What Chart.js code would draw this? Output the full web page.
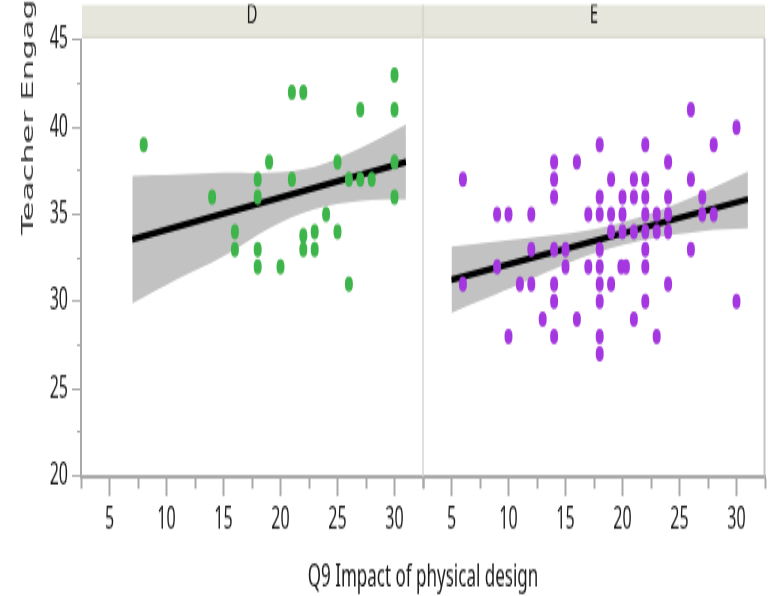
<!DOCTYPE html>
<html><head><meta charset="utf-8">
<script src="https://cdn.jsdelivr.net/npm/chart.js@4/dist/chart.umd.min.js"></script>
<style>html,body{margin:0;padding:0;background:#fff;overflow:hidden}canvas{display:block}</style>
</head><body>
<canvas id="c" width="769" height="310" style="width:769px;height:596px"></canvas>
<script>
// ---- data ----
const panels = ['D', 'E'];
const xTitle = 'Q9 Impact of physical design';
const yTitle = 'Teacher Engagement';

const dX = [8, 14, 16, 16, 18, 18, 18, 18, 19, 20, 21, 22, 21, 22, 22, 23, 23, 24, 25, 25, 26, 26, 27, 27, 28, 30, 30, 30, 30];
const dY = [39, 36, 34, 33, 37, 36, 33, 32, 38, 32, 42, 42, 37, 33.8, 33, 34, 33, 35, 38, 34, 37, 31, 41, 37, 37, 43, 41, 38, 36];

const eX = [26, 30, 18, 22, 28, 14, 16, 24, 6, 14, 19, 21, 22, 26, 14, 18, 20, 21, 22, 24, 27,
            9, 10, 12, 17, 18, 19, 20, 22, 23, 24, 27, 28, 19, 20, 21, 22, 23, 24,
            12, 14, 15, 18, 22, 26, 9, 15, 17, 18, 19.9, 20.3, 22, 6, 11, 12, 14, 18, 19, 24,
            14, 18, 22, 30, 13, 16, 21, 10, 14, 18, 23, 18];
const eY = [41, 40, 39, 39, 39, 38, 38, 38, 37, 37, 37, 37, 37, 37, 36, 36, 36, 36, 36, 36, 36,
            35, 35, 35, 35, 35, 35, 35, 35, 35, 35, 35, 35, 34, 34, 34, 34, 34, 34,
            33, 33, 33, 33, 33, 33, 32, 32, 32, 32, 32, 32, 32, 31, 31, 31, 31, 31, 31, 31,
            30, 30, 30, 30, 29, 29, 29, 28, 28, 28, 28, 27];

const dLineX = [7, 31];
const dLineY = [33.57, 38.0];
const dBandX = [7, 11, 15, 19, 23, 27, 31];
const dBandUpper = [37.22, 37.3, 37.4, 37.4, 37.74, 38.8, 40.15];
const dBandLower = [29.9, 31.3, 32.6, 34.2, 35.3, 35.78, 35.86];

const eLineX = [5, 31];
const eLineY = [31.26, 35.87];
const eBandX = [5, 11, 17, 22, 27, 31];
const eBandUpper = [33.16, 33.6, 34.1, 34.95, 36.25, 37.45];
const eBandLower = [29.36, 31.0, 32.65, 33.55, 34.05, 34.2];

// ---- geometry helpers (canvas is drawn at 769x310 and shown stretched to 596 tall) ----
const H = 310, S = 596 / H;
const R = v => v / S;
const isMajor = v => Math.abs(v / 5 - Math.round(v / 5)) < 1e-6;
const pts = (xs, ys) => xs.map((x, i) => ({x, y: ys[i]}));
const tickFont = {family: "'Noto Sans', 'Open Sans', sans-serif", size: 16};
const axisGray = '#a9a9a9';

function xScale() {
  return {
    type: 'linear', position: 'bottom', stack: 'panels', stackWeight: 1,
    min: 2.5, max: 32.5,
    afterFit: s => { s.height = H - R(476); },
    border: {display: true, color: axisGray, width: 2},
    grid: {drawOnChartArea: false, drawTicks: true, tickLength: R(20), tickColor: axisGray, tickWidth: 2,
      tickBorderDash: ctx => (ctx.tick && isMajor(ctx.tick.value)) ? [] : [R(10), 60]},
    ticks: {stepSize: 2.5, autoSkip: false, maxRotation: 0, minRotation: 0, padding: 3, color: '#1a1a1a', font: tickFont,
      callback: v => isMajor(v) ? String(v) : ''}
  };
}

const decor = {
  id: 'decor',
  beforeDatasetsDraw(chart) {
    const {ctx, chartArea: a, scales} = chart;
    ctx.save();
    ctx.strokeStyle = '#e0e0e0'; ctx.lineWidth = 2;
    ctx.beginPath(); ctx.moveTo(scales.xD.right, R(5)); ctx.lineTo(scales.xD.right, a.bottom); ctx.stroke();
    ctx.strokeStyle = '#c4c4c4';
    ctx.beginPath(); ctx.moveTo(a.right - 0.5, R(38)); ctx.lineTo(a.right - 0.5, a.bottom); ctx.stroke();
    ctx.restore();
  },
  afterDraw(chart) {
    const {ctx, chartArea: a, scales} = chart;
    ctx.save();
    ['xD', 'xE'].forEach((id, i) => {
      const s = scales[id];
      const l = s.left + (i ? 1.5 : 1), r = s.right - (i ? 0 : 1.5);
      const t = R(5), b = R(38);
      ctx.fillStyle = '#e6e6dd';
      ctx.fillRect(l, t, r - l, b - t);
      ctx.fillStyle = '#d6d6cb';
      ctx.fillRect(l, b - 1, r - l, 1);
      ctx.save();
      ctx.beginPath(); ctx.rect(l, t, r - l, b - t); ctx.clip();
      ctx.fillStyle = '#1a1a1a';
      ctx.font = "15px 'Noto Sans', sans-serif";
      ctx.textAlign = 'center'; ctx.textBaseline = 'alphabetic';
      ctx.fillText(panels[i], (s.left + s.right) / 2, R(24));
      ctx.restore();
    });
    ctx.fillStyle = '#d8d8ce';
    ctx.fillRect(scales.xD.right - 1.5, R(5), 3, R(38) - R(5));
    ctx.fillStyle = '#1a1a1a';
    ctx.font = "17px 'Noto Sans', sans-serif";
    ctx.textAlign = 'center'; ctx.textBaseline = 'middle';
    ctx.fillText(xTitle, (a.left + a.right) / 2, R(577));
    ctx.translate(33.3, R(235));
    ctx.rotate(-Math.PI / 2);
    ctx.font = "16.7px 'DejaVu Sans', sans-serif";
    ctx.fillStyle = '#333';
    ctx.textAlign = 'left'; ctx.textBaseline = 'alphabetic';
    ctx.fillText(yTitle, 0, 0);
    ctx.restore();
  }
};

const green = '#3db54a', purple = '#a437e0', bandGray = '#c2c2c2';

new Chart(document.getElementById('c'), {
  type: 'scatter',
  data: {
    datasets: [
      {type: 'scatter', label: panels[0], xAxisID: 'xD', yAxisID: 'y', data: pts(dX, dY), backgroundColor: green, pointRadius: 4, pointBorderWidth: 0, borderWidth: 0, order: 0},
      {type: 'scatter', label: panels[1], xAxisID: 'xE', yAxisID: 'y', data: pts(eX, eY), backgroundColor: purple, pointRadius: 4, pointBorderWidth: 0, borderWidth: 0, order: 0},
      {type: 'line', label: 'fitD', xAxisID: 'xD', yAxisID: 'y', data: pts(dLineX, dLineY), borderColor: '#000', borderWidth: 3.5, pointRadius: 0, fill: false, order: 1},
      {type: 'line', label: 'fitE', xAxisID: 'xE', yAxisID: 'y', data: pts(eLineX, eLineY), borderColor: '#000', borderWidth: 3.5, pointRadius: 0, fill: false, order: 1},
      {type: 'line', label: 'ciD+', xAxisID: 'xD', yAxisID: 'y', data: pts(dBandX, dBandUpper), borderColor: 'rgba(0,0,0,0)', borderWidth: 1, pointRadius: 0, fill: '+1', backgroundColor: bandGray, tension: 0.35, order: 2},
      {type: 'line', label: 'ciD-', xAxisID: 'xD', yAxisID: 'y', data: pts(dBandX, dBandLower), borderColor: 'rgba(0,0,0,0)', borderWidth: 1, pointRadius: 0, fill: false, tension: 0.35, order: 2},
      {type: 'line', label: 'ciE+', xAxisID: 'xE', yAxisID: 'y', data: pts(eBandX, eBandUpper), borderColor: 'rgba(0,0,0,0)', borderWidth: 1, pointRadius: 0, fill: '+1', backgroundColor: bandGray, tension: 0.35, order: 2},
      {type: 'line', label: 'ciE-', xAxisID: 'xE', yAxisID: 'y', data: pts(eBandX, eBandLower), borderColor: 'rgba(0,0,0,0)', borderWidth: 1, pointRadius: 0, fill: false, tension: 0.35, order: 2}
    ]
  },
  options: {
    responsive: false,
    animation: false,
    devicePixelRatio: 1,
    layout: {padding: {top: R(40), right: 2, bottom: 0, left: 0}},
    plugins: {legend: {display: false}, tooltip: {enabled: false}, title: {display: false}},
    scales: {
      xD: xScale(),
      xE: xScale(),
      y: {
        type: 'linear', position: 'left', min: 20, max: 45,
        afterFit: s => { s.width = 81; },
        border: {display: true, color: axisGray, width: 2},
        grid: {drawOnChartArea: false, drawTicks: true, tickLength: 9, tickColor: axisGray, tickWidth: 1,
          tickBorderDash: ctx => (ctx.tick && isMajor(ctx.tick.value)) ? [] : [0, 5, 4, 60]},
        ticks: {stepSize: 2.5, autoSkip: false, padding: 4, color: '#1a1a1a', font: tickFont,
          callback: v => isMajor(v) ? String(v) : ''}
      }
    }
  },
  plugins: [decor]
});
</script>
</body></html>
